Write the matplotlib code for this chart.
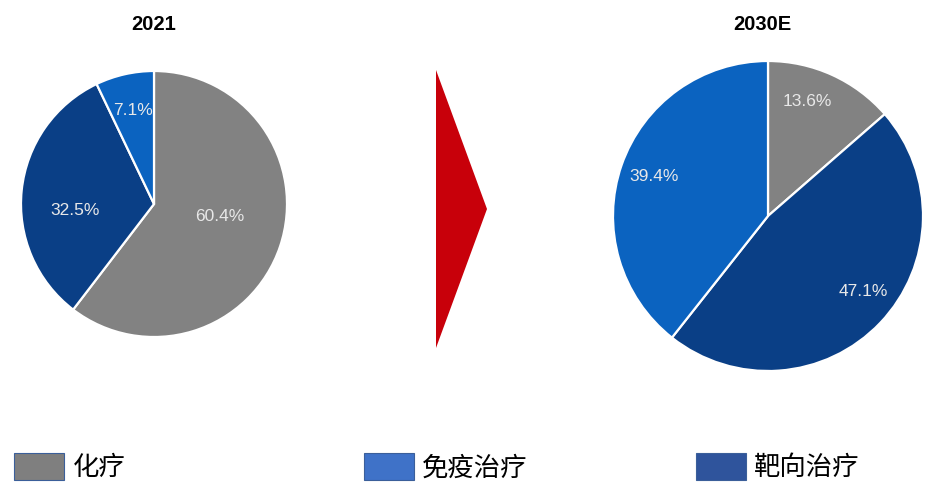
import matplotlib.pyplot as plt
from matplotlib.patches import Patch, Polygon

plt.rcParams['font.family'] = ['Noto Sans CJK SC', 'DejaVu Sans']

categories = ["化疗", "靶向治疗", "免疫治疗"]
share_2021 = [60.4, 32.5, 7.1]
share_2030 = [13.6, 47.1, 39.4]
titles = ["2021", "2030E"]

pie_colors = ["#828282", "#0a3f86", "#0b63c0"]
legend_order = ["化疗", "免疫治疗", "靶向治疗"]
legend_colors = ["#7f7f7f", "#3f72c8", "#2f549c"]

W, H = 934, 496
fig = plt.figure(figsize=(W / 100, H / 100), dpi=100)


def px_axes(x0, y0, x1, y1):
    # pixel box (top-left origin) -> figure axes
    return fig.add_axes([x0 / W, 1 - y1 / H, (x1 - x0) / W, (y1 - y0) / H])


def draw_pie(ax, values, pct_dist, shift):
    wedges, texts, autotexts = ax.pie(
        values, colors=pie_colors, startangle=90, counterclock=False,
        autopct="%.1f%%", pctdistance=0.6,
        wedgeprops=dict(edgecolor="white", linewidth=1.6),
        textprops=dict(color="#e8e8e8", fontsize=12.5, family="Liberation Sans"))
    for t, d, (dx, dy) in zip(autotexts, pct_dist, shift):
        x, y = t.get_position()
        t.set_position((x / 0.6 * d + dx, y / 0.6 * d + dy))
    ax.set_xlim(-1.0, 1.0)
    ax.set_ylim(-1.0, 1.0)
    ax.set_aspect("equal")


ax1 = px_axes(21, 71, 287, 337)
draw_pie(ax1, share_2021, [0.52, 0.6, 0.72], [(0, 0.07), (0, -0.11), (0, 0)])
fig.text(154 / W, 1 - 24 / H, titles[0], ha="center", va="center",
         fontsize=14.5, fontweight="bold", family="Liberation Sans")

ax2 = px_axes(613, 61, 923, 371)
draw_pie(ax2, share_2030, [0.78, 0.78, 0.78], [(-0.07, 0.03), (0.05, 0.05), (0, 0)])
fig.text(762 / W, 1 - 25 / H, titles[1], ha="center", va="center",
         fontsize=14.5, fontweight="bold", family="Liberation Sans")

# red arrow between the two pies
ax_bg = fig.add_axes([0, 0, 1, 1], zorder=-1)
ax_bg.set_xlim(0, W)
ax_bg.set_ylim(H, 0)
ax_bg.axis("off")
ax_bg.add_patch(Polygon([(436, 70), (487, 209), (436, 348)], closed=True,
                        facecolor="#c8000a", edgecolor="none"))

# legend, one entry per slot
slots = [15, 365, 697]
for name, col, x in zip(legend_order, legend_colors, slots):
    fig.legend(handles=[Patch(facecolor=col, edgecolor="#3b5f9a", linewidth=0.8)],
               labels=[name], loc="center left",
               bbox_to_anchor=(x / W - 0.012, 1 - 467 / H),
               frameon=False, fontsize=19, handlelength=1.9, handleheight=1.2,
               handletextpad=0.3, borderaxespad=0)

fig.savefig("out.png", dpi=100, facecolor="white")
